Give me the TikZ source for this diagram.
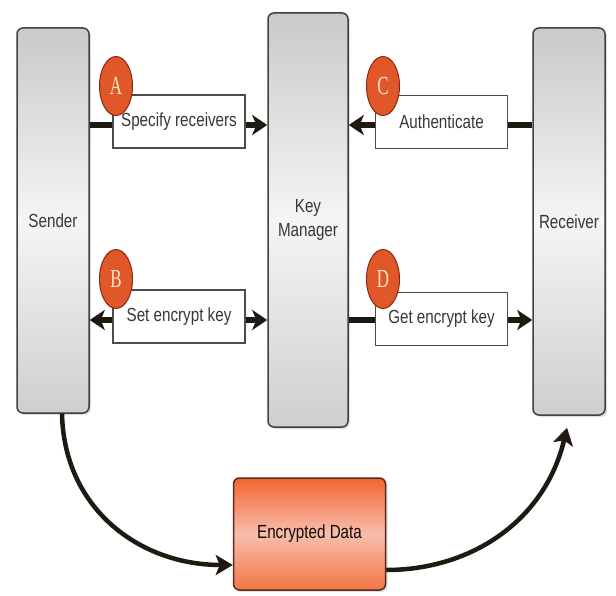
\documentclass[tikz,border=0pt]{standalone}
\usepackage{fontspec}
\setmainfont{Liberation Sans}[FakeStretch=0.8]
\newfontfamily\badgefont{Liberation Serif}[FakeStretch=0.65]
\usetikzlibrary{arrows.meta,shapes.geometric,shadows}
\definecolor{arrowc}{RGB}{30,26,18}
\definecolor{badgefill}{RGB}{224,88,42}
\definecolor{badgeedge}{RGB}{140,40,15}
\definecolor{badgetext}{RGB}{252,228,200}
\definecolor{edtop}{RGB}{243,100,50}
\definecolor{edmid}{RGB}{247,190,172}
\definecolor{edbot}{RGB}{242,118,68}
\definecolor{edline}{RGB}{90,42,26}
\definecolor{txt}{RGB}{55,55,55}
\tikzset{
  mainbox/.style={rectangle, rounded corners=6pt, draw=black!75, line width=1.5pt,
    top color=gray!42, bottom color=gray!38, middle color=gray!8,
    drop shadow={shadow xshift=2pt, shadow yshift=-2pt, opacity=0.25},
    inner sep=0pt, align=center, text=txt, font=\fontsize{19}{24}\selectfont},
  lbl/.style={rectangle, draw=black!70, fill=white, line width=1.3pt,
    minimum width=132pt, minimum height=53pt, inner sep=0pt,
    text=txt, font=\fontsize{19}{22}\selectfont},
  badge/.style={ellipse, fill=badgefill, draw=badgeedge, line width=1pt,
    minimum width=33pt, minimum height=59pt, inner sep=0pt,
    text=badgetext, font=\badgefont\fontsize{26}{26}\selectfont},
  conn/.style={draw=arrowc, line width=5.5pt, -{Stealth[length=15pt,width=20pt,inset=4pt]}},
  dconn/.style={draw=arrowc, line width=5.5pt, {Stealth[length=15pt,width=20pt,inset=4pt]}-{Stealth[length=15pt,width=20pt,inset=4pt]}},
  curvy/.style={draw=arrowc, line width=4.5pt, -{Stealth[length=17pt,width=20pt,inset=4pt]}},
  edbox/.style={rectangle, rounded corners=6pt, draw=edline, line width=1.5pt,
    top color=edtop, bottom color=edbot, middle color=edmid,
    drop shadow={shadow xshift=2pt, shadow yshift=-2pt, opacity=0.25},
    minimum width=152pt, minimum height=112pt, inner sep=0pt,
    text=black!80!edline, font=\fontsize{19}{22}\selectfont}
}
\begin{document}
\begin{tikzpicture}[x=1pt,y=-1pt]
\useasboundingbox (0,0) rectangle (616,596);
\fill[white] (0,0) rectangle (616,596);
% main boxes
\node[mainbox, minimum width=72pt, minimum height=385pt] (S) at (53,220.5) {Sender};
\node[mainbox, minimum width=80pt, minimum height=414pt] (KM) at (308,220) {Key\\Manager};
\node[mainbox, minimum width=72pt, minimum height=387pt] (R) at (569,221.5) {Receiver};
\node[edbox] (ED) at (309.5,534) {Encrypted Data};
% rows
\coordinate (rowAC) at (0,125);
\coordinate (rowBD) at (0,320);
% connectors
\draw[conn] (S.east |- rowAC) -- (KM.west |- rowAC);
\draw[conn] (R.west |- rowAC) -- (KM.east |- rowAC);
\draw[dconn] (S.east |- rowBD) -- (KM.west |- rowBD);
\draw[conn] (KM.east |- rowBD) -- (R.west |- rowBD);
\draw[curvy] ([xshift=9pt]S.south) .. controls +(2,95) and +(-93,0) .. ([yshift=-31pt]ED.west);
\draw[curvy] ([yshift=-36pt]ED.east) .. controls +(85,0) and +(-22,93) .. ([xshift=-2pt,yshift=-12pt]R.south);
% labels
\node[lbl] (LA) at (179,121.5) {Specify receivers};
\node[lbl] (LB) at (179,316.5) {Set encrypt key};
\node[lbl] (LC) at (441.5,122) {Authenticate};
\node[lbl] (LD) at (441.5,319) {Get encrypt key};
% badges
\node[badge] (BA) at (116,86) {A};
\node[badge] (BB) at (116,279) {B};
\node[badge] (BC) at (383,86) {C};
\node[badge] (BD) at (383,279) {D};
\end{tikzpicture}
\end{document}
